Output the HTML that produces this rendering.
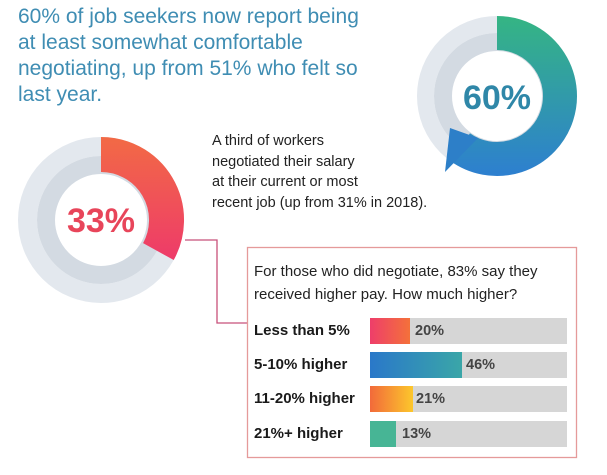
<!DOCTYPE html>
<html><head><meta charset="utf-8"><style>
body{margin:0;width:607px;height:475px;background:#fff;overflow:hidden;position:relative;font-family:"Liberation Sans",sans-serif}
.h{position:absolute;left:18px;top:4px;font-size:21px;line-height:26px;color:#3f8db3}
.t{position:absolute;left:212px;top:131px;font-size:14.5px;line-height:20.5px;color:#222}
.q{position:absolute;left:254px;top:260px;font-size:15px;line-height:23px;color:#222}
.lab{position:absolute;left:254px;font-size:15px;font-weight:bold;color:#1a1a1a}
.bar{position:absolute;left:370px;width:197px;height:26px;background:#d6d6d6}
.bar div{height:100%}
.pct{position:absolute;font-size:14.5px;font-weight:bold;color:#444}
</style></head><body>
<div class="h">60% of job seekers now report being<br>at least somewhat comfortable<br>negotiating, up from 51% who felt so<br>last year.</div>
<div class="t">A third of workers<br>negotiated their salary<br>at their current or most<br>recent job (up from 31% in 2018).</div>
<svg width="607" height="475" style="position:absolute;left:0;top:0">
<defs>
<linearGradient id="r" gradientUnits="userSpaceOnUse" x1="0" y1="137" x2="0" y2="262"><stop offset="0" stop-color="#f26a45"/><stop offset="1" stop-color="#ee3a6a"/></linearGradient>
<linearGradient id="g" gradientUnits="userSpaceOnUse" x1="0" y1="16" x2="0" y2="176"><stop offset="0" stop-color="#35b583"/><stop offset="1" stop-color="#2d7fd0"/></linearGradient>
</defs>
<circle cx="101" cy="220" r="73.5" fill="none" stroke="#e3e8ee" stroke-width="19"/>
<circle cx="101" cy="220" r="55" fill="none" stroke="#d3dae2" stroke-width="18"/>
<path d="M101,154.5 A65.5,65.5 0 0 1 158.4,251.6" fill="none" stroke="url(#r)" stroke-width="35"/>
<text x="101" y="232" text-anchor="middle" font-family="Liberation Sans" font-weight="bold" font-size="34" fill="#e8455a">33%</text>
<polyline points="185,240 217,240 217,323 247,323" fill="none" stroke="#c8507a" stroke-width="1.3"/>
<circle cx="497" cy="96" r="71.5" fill="none" stroke="#e3e8ee" stroke-width="17"/>
<circle cx="497" cy="96" r="54" fill="none" stroke="#d3dae2" stroke-width="18"/>
<path d="M497,33 A63,63 0 1 1 460,147" fill="none" stroke="url(#g)" stroke-width="34"/>
<polygon points="445,172 450,128 478,138" fill="#2d7fc8"/>
<text x="497" y="109" text-anchor="middle" font-family="Liberation Sans" font-weight="bold" font-size="34" fill="#2f87a8">60%</text>
<rect x="247.5" y="247.5" width="329" height="210" fill="none" stroke="#e59a9a" stroke-width="1.3"/>
</svg>
<div class="q">For those who did negotiate, 83% say they<br>received higher pay. How much higher?</div>
<div class="lab" style="top:322px">Less than 5%</div>
<div class="lab" style="top:356px">5-10% higher</div>
<div class="lab" style="top:390px">11-20% higher</div>
<div class="lab" style="top:425px">21%+ higher</div>
<div class="bar" style="top:318px"><div style="width:40px;background:linear-gradient(90deg,#ee3e6a,#f4713a)"></div></div>
<div class="bar" style="top:352px"><div style="width:92px;background:linear-gradient(90deg,#2a78c9,#3aa6a8)"></div></div>
<div class="bar" style="top:386px"><div style="width:43px;background:linear-gradient(90deg,#f26a3a,#fcc72c)"></div></div>
<div class="bar" style="top:421px"><div style="width:26px;background:#47b595"></div></div>
<div class="pct" style="left:415px;top:323px">20%</div>
<div class="pct" style="left:466px;top:357px">46%</div>
<div class="pct" style="left:416px;top:391px">21%</div>
<div class="pct" style="left:402px;top:426px">13%</div>
</body></html>
